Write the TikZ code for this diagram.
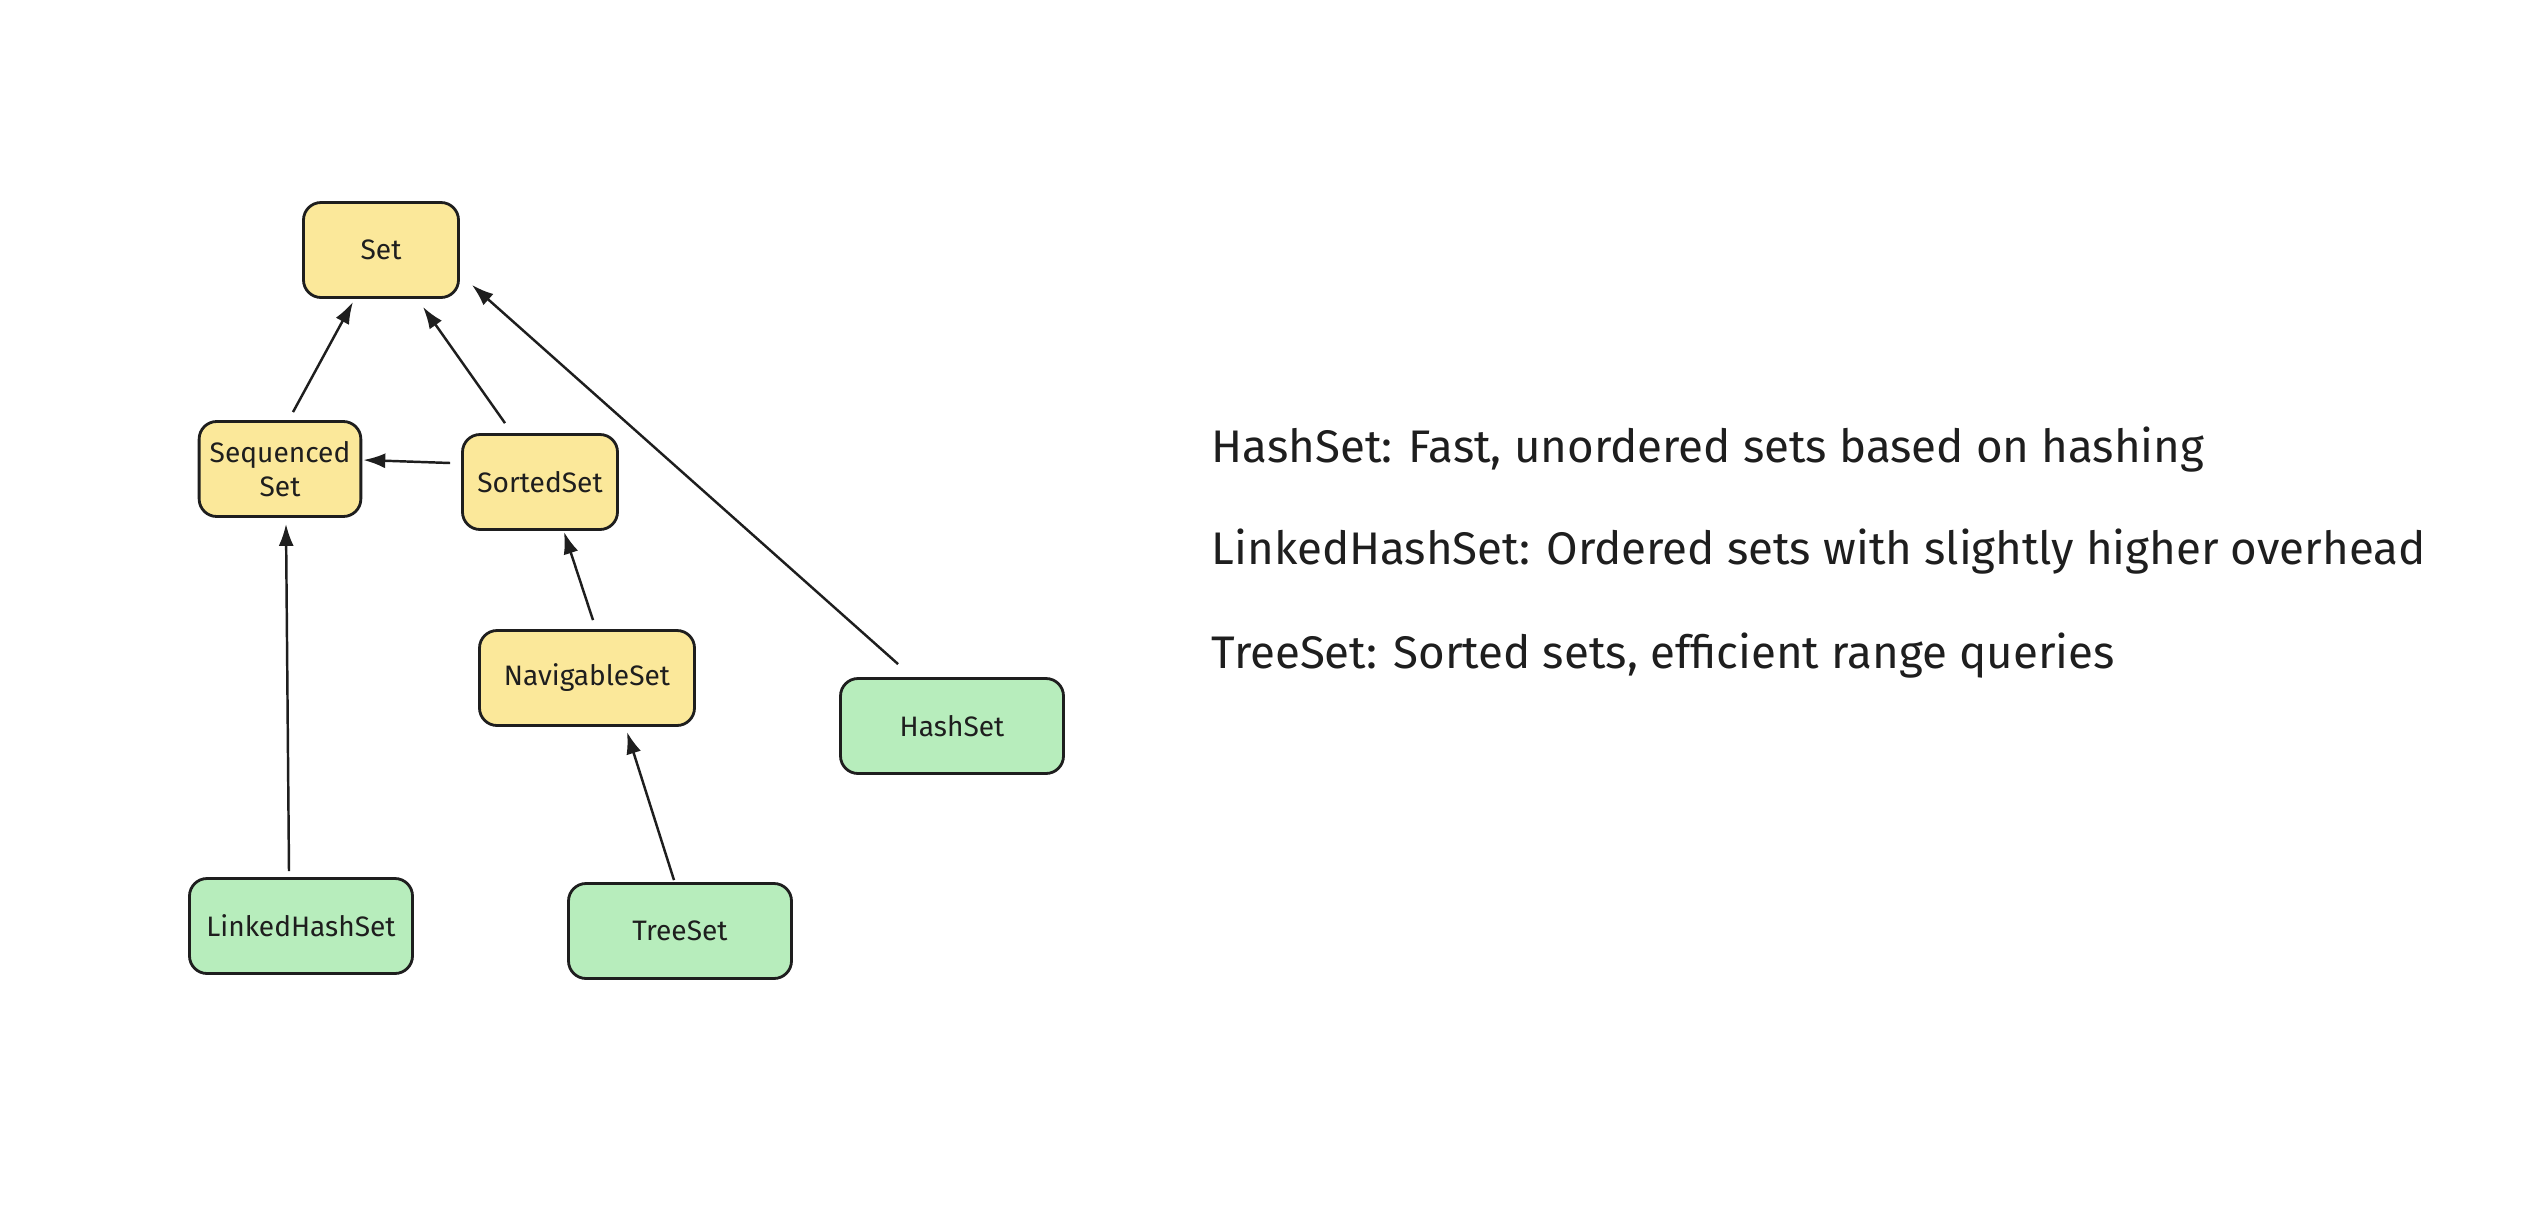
\documentclass[tikz,border=0pt]{standalone}
\usepackage{fontspec}
\setmainfont{Fira Sans}
\usepackage{xcolor}
\usepackage{tikz}
\usetikzlibrary{positioning,arrows.meta,calc}
\definecolor{stInk}{HTML}{1E1E1E}
\definecolor{stYellow}{HTML}{FBE89A}
\definecolor{stGreen}{HTML}{B7EDBC}
\definecolor{stWhite}{HTML}{FFFFFF}
\tikzset{
  st-box/.style={
    draw=stInk, line width=0.8pt, rounded corners=5pt,
    font=\fontsize{8}{9.5}\selectfont, align=center, text=stInk,
    inner sep=3pt, minimum width=1.55cm, minimum height=0.95cm
  },
  st-yellow/.style={st-box, fill=stYellow},
  st-green/.style={st-box, fill=stGreen, minimum width=2.23cm},
  st-flow/.style={-{Latex[length=2.2mm,width=1.5mm]}, line width=0.7pt, draw=stInk},
  st-note/.style={font=\fontsize{13}{15}\selectfont, text=stInk, anchor=west, inner sep=0pt}
}
\begin{document}
\begin{tikzpicture}
\useasboundingbox[fill=stWhite] (0,0) rectangle (25.48,-12.12);
% Interfaces
\node[st-yellow] (set) at (3.81,-2.50) {Set};
\node[st-yellow] (seq) at (2.80,-4.69) {Sequenced\\Set};
\node[st-yellow] (sorted) at (5.40,-4.82) {SortedSet};
\node[st-yellow, minimum width=2.15cm] (nav) at (5.87,-6.78) {NavigableSet};
% Implementations
\node[st-green] (hash) at (9.52,-7.26) {HashSet};
\node[st-green] (linked) at (3.01,-9.26) {LinkedHashSet};
\node[st-green] (tree) at (6.80,-9.31) {TreeSet};
% Inheritance
\draw[st-flow] ($(seq.north)+(0.13,0.08)$) -- ($(set.south)+(-0.28,-0.03)$);
\draw[st-flow] ($(sorted.north)+(-0.35,0.10)$) -- ($(set.south)+(0.42,-0.08)$);
\draw[st-flow] ($(sorted.west)+(-0.11,0.19)$) -- ($(seq.east)+(0.01,0.09)$);
\draw[st-flow] ($(hash.north west)+(0.59,0.13)$) -- ($(set.south east)+(0.12,0.14)$);
\draw[st-flow] ($(nav.north)+(0.06,0.09)$) -- ($(sorted.south)+(0.24,-0.01)$);
\draw[st-flow] ($(linked.north)+(-0.12,0.06)$) -- ($(seq.south)+(0.06,-0.06)$);
\draw[st-flow] ($(tree.north)+(-0.06,0.02)$) -- ($(nav.south)+(0.40,-0.05)$);
% Notes
\node[st-note] (n1) at (12.11,-4.50) {HashSet: Fast, unordered sets based on hashing};
\node[st-note] (n2) at (12.11,-5.52) {LinkedHashSet: Ordered sets with slightly higher overhead};
\node[st-note] (n3) at (12.11,-6.56) {TreeSet: Sorted sets, efficient range queries};
\end{tikzpicture}
\end{document}
